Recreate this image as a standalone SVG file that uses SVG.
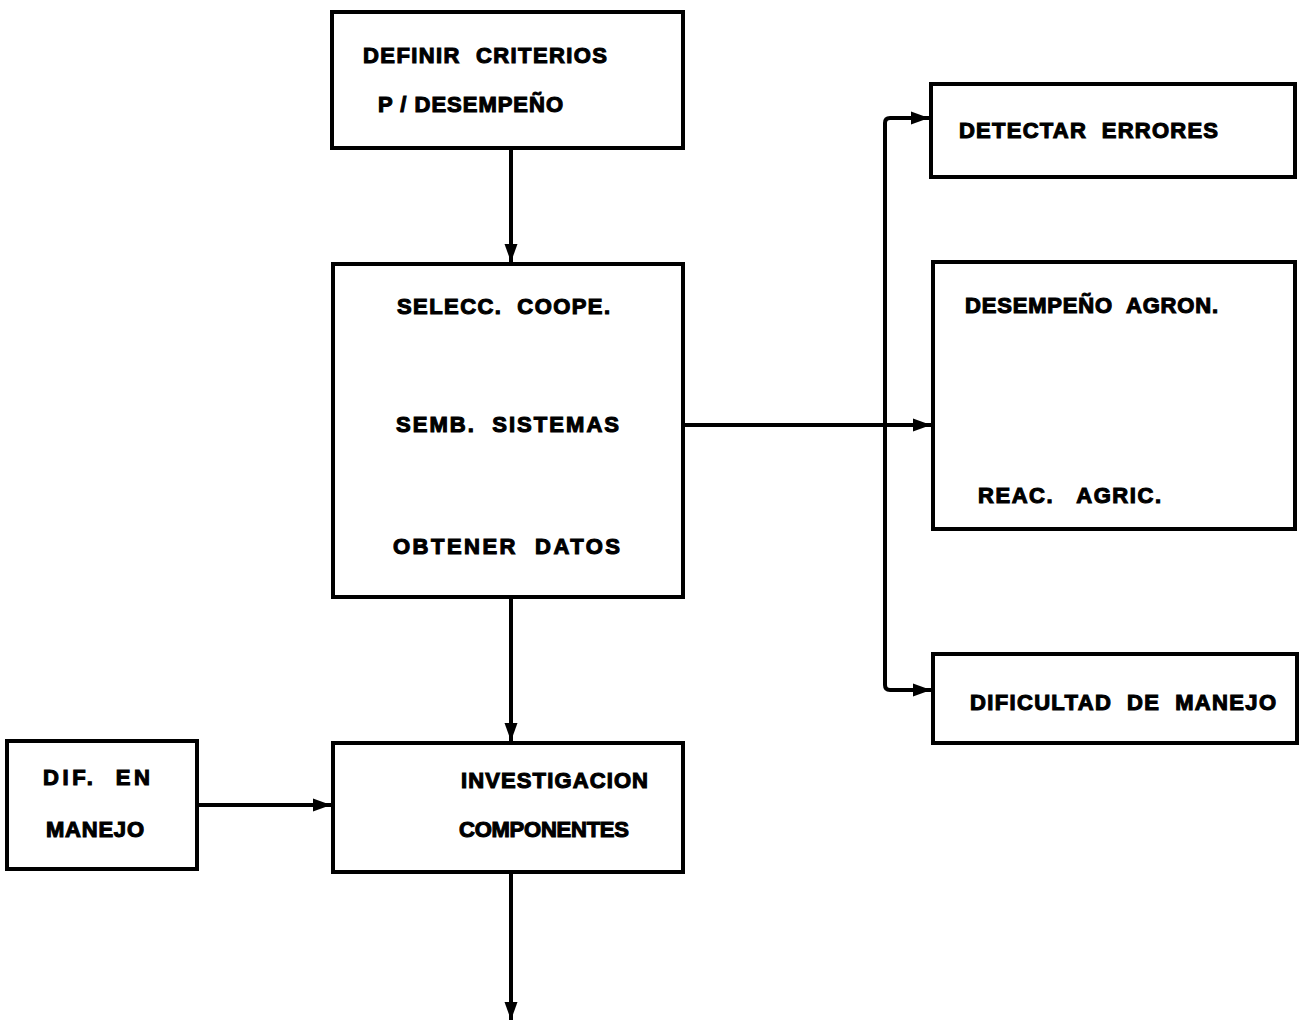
<svg xmlns="http://www.w3.org/2000/svg" width="1304" height="1021" viewBox="0 0 1304 1021">
<style>
.box{fill:#fff;stroke:#000;stroke-width:4;}
.t{font-family:"Liberation Sans",Arial,sans-serif;font-weight:bold;font-size:22px;fill:#000;stroke:#000;stroke-width:1.1;white-space:pre;}
.c{fill:none;stroke:#000;stroke-width:4;}
</style>
<defs>
<marker id="ah" markerUnits="userSpaceOnUse" markerWidth="20" markerHeight="16" refX="18" refY="8" orient="auto">
<path d="M0,1.5 L18,8 L0,14.5 Z" fill="#000"/>
</marker>
</defs>
<rect width="1304" height="1021" fill="#fff"/>
<g id="connectors">
<line class="c" x1="511" y1="148" x2="511" y2="262" marker-end="url(#ah)"/>
<line class="c" x1="511" y1="597" x2="511" y2="741" marker-end="url(#ah)"/>
<line class="c" x1="511" y1="872" x2="511" y2="1020" marker-end="url(#ah)"/>
<line class="c" x1="197" y1="805" x2="331" y2="805" marker-end="url(#ah)"/>
<line class="c" x1="683" y1="425" x2="931" y2="425" marker-end="url(#ah)"/>
<path class="c" d="M929,118 L890,118 Q885,118 885,123 L885,685 Q885,690 890,690 L931,690"/>
<line class="c" x1="905" y1="118" x2="929" y2="118" marker-end="url(#ah)"/>
<line class="c" x1="905" y1="690" x2="931" y2="690" marker-end="url(#ah)"/>
</g>
<g id="n1"><rect class="box" x="332" y="12" width="351" height="136"/>
<text class="t" x="363" y="63" textLength="244" lengthAdjust="spacing" xml:space="preserve">DEFINIR  CRITERIOS</text>
<text class="t" x="378" y="112" textLength="185" lengthAdjust="spacing" xml:space="preserve">P / DESEMPEÑO</text></g>
<g id="n2"><rect class="box" x="333" y="264" width="350" height="333"/>
<text class="t" x="397" y="314" textLength="213" lengthAdjust="spacing" xml:space="preserve">SELECC.  COOPE.</text>
<text class="t" x="396" y="432" textLength="223" lengthAdjust="spacing" xml:space="preserve">SEMB.  SISTEMAS</text>
<text class="t" x="393" y="554" textLength="227" lengthAdjust="spacing" xml:space="preserve">OBTENER  DATOS</text></g>
<g id="n3"><rect class="box" x="333" y="743" width="350" height="129"/>
<text class="t" x="461" y="788" textLength="187" lengthAdjust="spacing">INVESTIGACION</text>
<text class="t" x="459" y="837" textLength="170" lengthAdjust="spacing">COMPONENTES</text></g>
<g id="n4"><rect class="box" x="7" y="741" width="190" height="128"/>
<text class="t" x="43" y="785" textLength="107" lengthAdjust="spacing" xml:space="preserve">DIF.  EN</text>
<text class="t" x="46" y="837" textLength="98" lengthAdjust="spacing">MANEJO</text></g>
<g id="n5"><rect class="box" x="931" y="84" width="364" height="93"/>
<text class="t" x="959" y="138" textLength="259" lengthAdjust="spacing" xml:space="preserve">DETECTAR  ERRORES</text></g>
<g id="n6"><rect class="box" x="933" y="262" width="362" height="267"/>
<text class="t" x="965" y="313" textLength="253" lengthAdjust="spacing" xml:space="preserve">DESEMPEÑO  AGRON.</text>
<text class="t" x="978" y="503" textLength="183" lengthAdjust="spacing" xml:space="preserve">REAC.   AGRIC.</text></g>
<g id="n7"><rect class="box" x="933" y="654" width="364" height="89"/>
<text class="t" x="970" y="710" textLength="306" lengthAdjust="spacing" xml:space="preserve">DIFICULTAD  DE  MANEJO</text></g>
</svg>
